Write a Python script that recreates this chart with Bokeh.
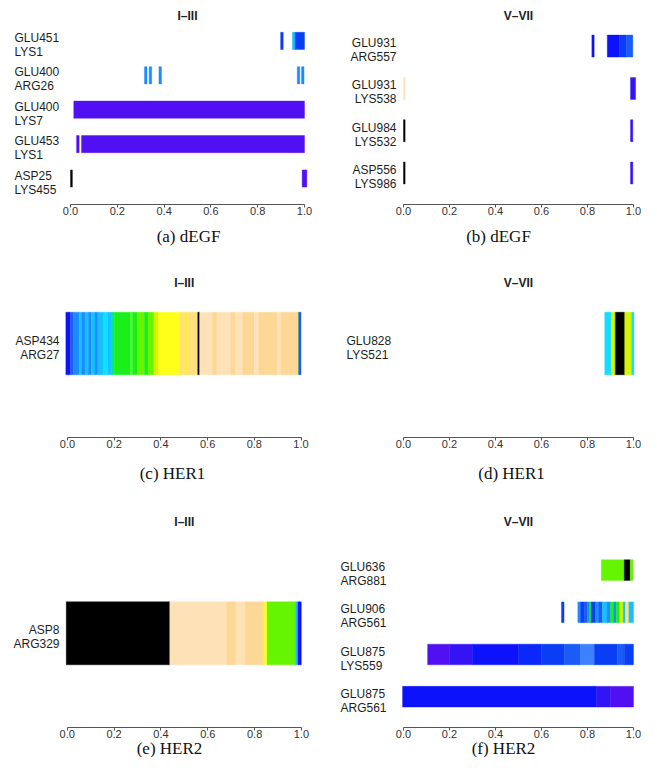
from bokeh.plotting import figure
from bokeh.models import Range1d, LinearAxis, FixedTicker, PrintfTickFormatter, ColumnDataSource
from bokeh.layouts import column, row
from bokeh.transform import factor_cmap
from bokeh.core.properties import value
from bokeh.embed import file_html
from bokeh.resources import INLINE

# ---------------- data ----------------
XTICKS = [0.0, 0.2, 0.4, 0.6, 0.8, 1.0]

STATES = ["K", "V", "V2", "B", "B1", "B2", "B3", "LB", "LB2", "C", "C2", "GC",
          "G", "G2", "LG", "YG", "Y", "Y2", "YO", "O", "O2"]
PALETTE = ["#000000", "#5010f2", "#3414f5", "#0c12fa", "#0a28f8", "#0a3ef5", "#1a5cf5",
           "#1e8aff", "#3c82ff", "#19c0ff", "#0fe0ff", "#00e8a0",
           "#19f019", "#52f52a", "#66f500", "#d6f500", "#ffff19", "#ffea40", "#ffe07a",
           "#fde2b8", "#fcd795"]

# (a) dEGF  I–III
A_TITLE = "I–III"
A_CAPTION = "(a) dEGF"
A_LABELS = ["GLU451\nLYS1", "GLU400\nARG26", "GLU400\nLYS7", "GLU453\nLYS1", "ASP25\nLYS455"]
A_ROW = [0, 0, 0, 1, 1, 1, 1, 1, 2, 3, 3, 4, 4]
A_START = [0.898, 0.948, 0.960, 0.316, 0.336, 0.378, 0.969, 0.987, 0.014, 0.026, 0.047, 0.0, 0.990]
A_END = [0.909, 0.960, 1.000, 0.327, 0.347, 0.389, 0.980, 0.998, 1.000, 0.037, 1.000, 0.008, 1.010]
A_STATE = ["B2", "C", "B2", "LB", "LB", "LB", "LB", "LB", "V", "V", "V", "K", "V"]

# (b) dEGF  V–VII
B_TITLE = "V–VII"
B_CAPTION = "(b) dEGF"
B_LABELS = ["GLU931\nARG557", "GLU931\nLYS538", "GLU984\nLYS532", "ASP556\nLYS986"]
B_ROW = [0, 0, 0, 0, 1, 1, 2, 2, 3, 3]
B_START = [0.819, 0.886, 0.940, 0.970, 0.0, 0.987, 0.0, 0.987, 0.0, 0.987]
B_END = [0.829, 0.940, 0.970, 0.997, 0.007, 1.009, 0.007, 0.997, 0.007, 0.997]
B_STATE = ["B", "B", "B2", "B3", "O", "V2", "K", "V2", "K", "V2"]

# (c) HER1  I–III
C_TITLE = "I–III"
C_CAPTION = "(c) HER1"
C_LABELS = ["ASP434\nARG27"]
C_START = [-0.007, 0.012, 0.026, 0.050, 0.062, 0.075, 0.090, 0.102, 0.118, 0.130, 0.155, 0.172,
           0.190, 0.200, 0.270, 0.280, 0.300, 0.330, 0.345, 0.370, 0.390, 0.480, 0.500, 0.515,
           0.558, 0.566, 0.620, 0.640, 0.700, 0.720, 0.750, 0.800, 0.820, 0.900, 0.915, 0.985, 0.990]
C_END = [0.012, 0.026, 0.050, 0.062, 0.075, 0.090, 0.102, 0.118, 0.130, 0.155, 0.172, 0.190,
         0.200, 0.270, 0.280, 0.300, 0.330, 0.345, 0.370, 0.390, 0.480, 0.500, 0.515, 0.558,
         0.566, 0.620, 0.640, 0.700, 0.720, 0.750, 0.800, 0.820, 0.900, 0.915, 0.985, 0.990, 1.000]
C_STATE = ["B", "B3", "LB", "C", "LB", "C", "LB", "C", "LB", "C", "C2", "C",
           "GC", "G", "G2", "G", "LG", "G", "LG", "YG", "Y", "YO", "Y2", "YO",
           "K", "O", "O2", "O", "O2", "O", "O2", "O", "O2", "O", "O2", "YG", "B3"]
C_ROW = [0] * len(C_START)

# (d) HER1  V–VII
D_TITLE = "V–VII"
D_CAPTION = "(d) HER1"
D_LABELS = ["GLU828\nLYS521"]
D_START = [0.875, 0.903, 0.921, 0.962, 0.992]
D_END = [0.903, 0.921, 0.962, 0.992, 1.002]
D_STATE = ["C2", "YG", "K", "YG", "C2"]
D_ROW = [0] * len(D_START)

# (e) HER2  I–III
E_TITLE = "I–III"
E_CAPTION = "(e) HER2"
E_LABELS = ["ASP8\nARG329"]
E_START = [-0.004, 0.438, 0.680, 0.720, 0.760, 0.830, 0.843, 0.853, 0.974, 0.985]
E_END = [0.438, 0.680, 0.720, 0.760, 0.830, 0.843, 0.853, 0.974, 0.985, 0.999]
E_STATE = ["K", "O", "O2", "O", "O2", "YO", "Y", "LG", "C", "B"]
E_ROW = [0] * len(E_START)

# (f) HER2  V–VII
F_TITLE = "V–VII"
F_CAPTION = "(f) HER2"
F_LABELS = ["GLU636\nARG881", "GLU906\nARG561", "GLU875\nLYS559", "GLU875\nARG561"]
F_ROW = [0, 0, 0,
         1, 1, 1, 1, 1, 1, 1, 1, 1, 1, 1, 1, 1, 1, 1, 1, 1, 1,
         2, 2, 2, 2, 2, 2, 2, 2, 2, 2,
         3, 3, 3]
F_START = [0.860, 0.960, 0.986,
           0.687, 0.758, 0.770, 0.785, 0.800, 0.810, 0.816, 0.835, 0.850, 0.865, 0.885, 0.900,
           0.915, 0.925, 0.940, 0.955, 0.965, 0.980,
           0.105, 0.200, 0.300, 0.500, 0.600, 0.700, 0.770, 0.830, 0.930, 0.960,
           -0.004, 0.840, 0.900]
F_END = [0.960, 0.986, 0.998,
         0.698, 0.770, 0.785, 0.800, 0.810, 0.816, 0.835, 0.850, 0.865, 0.885, 0.900, 0.915,
         0.925, 0.940, 0.955, 0.965, 0.980, 1.000,
         0.200, 0.300, 0.500, 0.600, 0.700, 0.770, 0.830, 0.930, 0.960, 1.000,
         0.840, 0.900, 1.000]
F_STATE = ["LG", "K", "LG",
           "B2", "LB", "B2", "B3", "LB", "G", "B2", "LB", "B3", "C", "LB", "G",
           "LB", "G", "YG", "C", "YO", "C",
           "V", "V2", "B", "B1", "B2", "B3", "LB2", "B2", "B3", "B2",
           "B", "V2", "V"]

# ---------------- layout (pixels in the picture) ----------------
COLS = [(0, 322), (322, 641)]
ROWS = [(0, 250), (250, 494), (494, 757)]


def panel(title, caption, labels, seg_row, seg_start, seg_end, seg_state, col, rw,
          x0, x1, pb, pitch, bar_h, axis_py, title_py, cap_px, cap_py, lab_px, lab_align):
    fl, fr = COLS[col]
    ft, fb = ROWS[rw]
    unit = x1 - x0
    n = len(labels)
    p = figure(width=fr - fl, height=fb - ft,
               x_range=Range1d((fl - x0) / unit, (fr - x0) / unit),
               y_range=Range1d((pb - fb) / pitch, (pb - ft) / pitch),
               output_backend="svg", toolbar_location=None,
               x_axis_location=None, y_axis_location=None,
               min_border=0, outline_line_color=None)
    p.grid.visible = False

    ys = [n - 1 - r for r in seg_row]
    src = ColumnDataSource(dict(y=ys, left=seg_start, right=seg_end, state=seg_state))
    cmap = factor_cmap("state", PALETTE, STATES)
    p.hbar(y="y", left="left", right="right", height=bar_h, source=src,
           fill_color=cmap, line_color=cmap, line_width=0.4)

    p.text(x=[(lab_px - x0) / unit] * n,
           y=[n - 1 - i - 4.0 / pitch for i in range(n)],
           text=labels, text_align=lab_align, text_baseline="middle",
           text_font=value("Liberation Sans"), text_font_size="12px",
           text_line_height=1.0, text_color="#1e1e1e")

    p.text(x=[0.5], y=[(pb - title_py) / pitch], text=[title],
           text_align="center", text_baseline="middle",
           text_font=value("Liberation Sans"), text_font_style="bold",
           text_font_size="12px", text_color="#222222")

    p.text(x=[(cap_px - x0) / unit], y=[(pb - cap_py) / pitch], text=[caption],
           text_align="center", text_baseline="middle",
           text_font=value("Liberation Serif"), text_font_size="17px",
           text_color="#111111")

    ax = LinearAxis(fixed_location=(pb - axis_py) / pitch,
                    ticker=FixedTicker(ticks=XTICKS),
                    formatter=PrintfTickFormatter(format="%.1f"),
                    bounds=(0, 1))
    ax.axis_line_color = "#555555"
    ax.axis_line_width = 1
    ax.major_tick_line_color = "#555555"
    ax.major_tick_out = 3
    ax.major_tick_in = 0
    ax.minor_tick_line_color = None
    ax.major_label_standoff = -1
    ax.major_label_text_font = "Liberation Sans"
    ax.major_label_text_font_size = "11px"
    ax.major_label_text_color = "#333333"
    p.add_layout(ax, "below")
    return p


pa = panel(A_TITLE, A_CAPTION, A_LABELS, A_ROW, A_START, A_END, A_STATE, 0, 0,
           70, 304, 178, 34.4, 0.5, 204, 15, 188, 236, 14, "left")
pb_ = panel(B_TITLE, B_CAPTION, B_LABELS, B_ROW, B_START, B_END, B_STATE, 1, 0,
            403, 633, 172.5, 42.3, 0.52, 204, 15, 498, 236, 396, "right")
pc = panel(C_TITLE, C_CAPTION, C_LABELS, C_ROW, C_START, C_END, C_STATE, 0, 1,
           67, 300.5, 343, 62.6, 1.0, 437, 282, 172, 473, 59, "right")
pd = panel(D_TITLE, D_CAPTION, D_LABELS, D_ROW, D_START, D_END, D_STATE, 1, 1,
           403, 633, 343, 62.6, 1.0, 437, 282, 511, 473, 346, "left")
pe = panel(E_TITLE, E_CAPTION, E_LABELS, E_ROW, E_START, E_END, E_STATE, 0, 2,
           66.7, 301, 632.8, 63.0, 1.0, 727, 521, 169, 748, 59, "right")
pf = panel(F_TITLE, F_CAPTION, F_LABELS, F_ROW, F_START, F_END, F_STATE, 1, 2,
           403, 633, 696.2, 42.2, 0.49, 727, 521, 503, 748, 340, "left")

layout = column(row(pa, pb_), row(pc, pd), row(pe, pf))
open("out.html", "w").write(file_html(layout, INLINE))
